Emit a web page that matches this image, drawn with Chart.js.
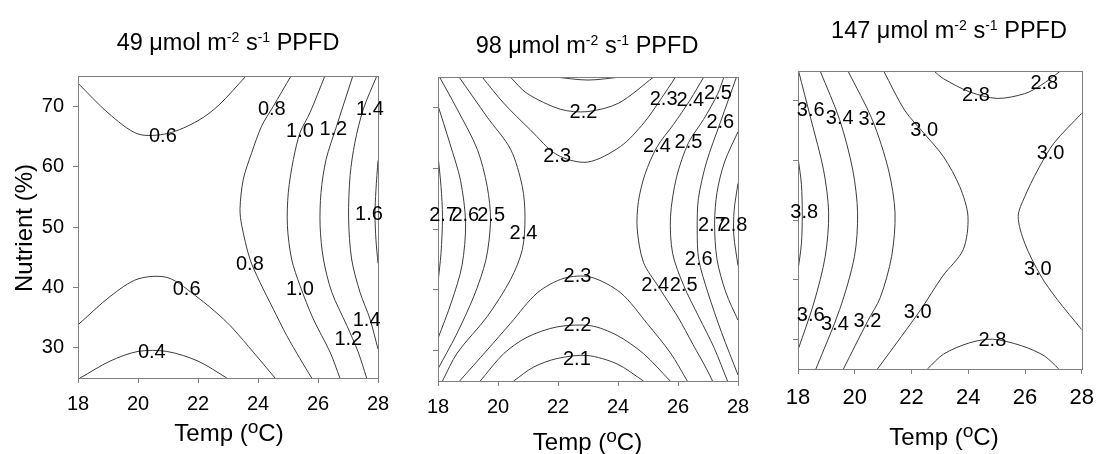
<!DOCTYPE html>
<html>
<head>
<meta charset="utf-8">
<script src="https://cdn.jsdelivr.net/npm/chart.js@4.4.1/dist/chart.umd.min.js"></script>
<style>
  html, body { margin: 0; padding: 0; background: #fff; }
  #wrap { position: relative; width: 1105px; height: 454px; }
  #wrap canvas { position: absolute; left: 0; top: 0; }
</style>
</head>
<body>
<div id="wrap">
  <canvas id="c49" width="1105" height="454"></canvas>
  <canvas id="c98" width="1105" height="454"></canvas>
  <canvas id="c147" width="1105" height="454"></canvas>
</div>
<script>
// axis ticks
const tempTicks = [18, 20, 22, 24, 26, 28];
const nutrientTicks = [30, 40, 50, 60, 70];
const ppfd = ['49', '98', '147'];

// contour lines, points are [temp, nutrient]
const lines49 = [
  [[18,73.8],[19,68.9],[20,65.4],[21,65.5],[22,67.6],[22.7,70.2],[23.6,75]],                                   // 0.6
  [[18,33.8],[19.07,38.5],[20,41.4],[21,41.6],[22,38.3],[22.73,35.3],[23.18,33.1],[23.84,29.3],[24.4,26],[24.57,25]], // 0.6
  [[18.07,25],[19.07,27.8],[20,29.4],[20.96,29.4],[22,27.8],[22.96,25]],                                      // 0.4
  [[25.1,75],[24.5,69.9],[24.12,66.7],[23.79,62.3],[23.51,57.9],[23.4,53],[23.46,50.2],[23.73,44.7],[24.07,40.8],[24.51,36.4],[24.96,32],[25.4,28.2],[25.79,25]], // 0.8
  [[26.23,75],[25.73,68.9],[25.4,65.6],[25.18,61.2],[25.01,55.7],[24.98,50.2],[25.12,44.7],[25.4,40.3],[25.84,34.8],[26.4,29.3],[26.73,25]], // 1.0
  [[27.16,75],[26.62,66.7],[26.27,61.2],[26.1,55.7],[26.07,50.2],[26.18,44.7],[26.46,39.2],[26.96,33.7],[27.34,29.3],[27.62,25]], // 1.2
  [[27.96,75],[27.51,69.5],[27.23,64],[27.07,58.5],[27.02,51.5],[27.12,44.7],[27.4,39.2],[27.73,34.8],[28,29.8]], // 1.4
  [[28,61],[27.93,56],[27.9,52],[27.93,48],[28,44]]                                                            // 1.6
];
const labels49 = [
  [20.83,65.0,'0.6'],[24.46,69.5,'0.8'],[25.4,65.8,'1.0'],[26.51,66.1,'1.2'],[27.73,69.5,'1.4'],
  [27.7,52.0,'1.6'],[23.73,43.8,'0.8'],[21.62,39.7,'0.6'],[25.4,39.7,'1.0'],[27.62,34.6,'1.4'],
  [27.01,31.4,'1.2'],[20.46,29.2,'0.4']
];

const lines98 = [
  [[18,62.1],[18.1,57],[18.15,52],[18.1,46],[18,41.2]],                                                         // 2.7
  [[18,70.3],[18.4,64],[18.75,58],[18.92,51],[18.8,44],[18.45,38],[18,32]],                                    // 2.6
  [[18.05,75],[18.64,69.7],[19.31,63.1],[19.64,57],[19.75,51.4],[19.6,45],[19.2,39],[18.6,32.5],[18,27]],      // 2.5
  [[18.7,75],[19.64,68.4],[20.42,63.1],[20.81,57],[20.9,52],[20.81,46.6],[20.42,41.7],[19.64,35.6],[18.64,29.6],[18.15,25]], // 2.4
  [[19.47,75],[20.19,70.7],[21.08,66.3],[21.97,62.2],[22.98,61.0],[24.09,63.6],[24.87,67.5],[25.42,71.3],[25.92,75]], // 2.3
  [[20.41,75],[20.97,72.3],[22.08,69.7],[22.97,69.3],[24.02,70.7],[25.19,75]],                                 // 2.2
  [[21.9,75],[23,74.5],[24.1,75]],                                                                             // 2.1
  [[18.72,25],[19.64,30.1],[20.42,34.5],[21.31,39.5],[22.2,41.9],[23.08,42.1],[24.09,39.5],[24.98,34.4],[25.75,29.6],[26.31,25]], // 2.3
  [[19.41,25],[20.19,29.5],[20.97,32.2],[21.97,33.9],[23.08,34.1],[23.97,32.5],[24.85,29.5],[25.74,25]],       // 2.2
  [[20.52,25],[21.19,27.3],[21.97,28.7],[22.97,29.2],[23.97,27.8],[24.85,25]],                                 // 2.1
  [[26.86,75],[26.4,71.2],[25.85,67.2],[25.3,63.5],[24.9,59],[24.68,54.5],[24.64,50],[24.85,44.5],[25.35,40.5],[26.0,35.5],[26.5,31],[26.95,27],[27.15,25]], // 2.4
  [[27.53,75],[27.33,72.3],[26.85,68],[26.35,64.2],[25.95,58.5],[25.75,52],[25.82,46],[26.19,40.7],[26.7,35.5],[27.2,30.5],[27.65,25]], // 2.5
  [[27.95,75],[27.41,67.5],[26.95,61],[26.68,55],[26.64,50],[26.69,45],[27.0,39.5],[27.45,33],[28,26]],        // 2.6
  [[28,66],[27.55,61],[27.3,56],[27.22,51],[27.3,45],[27.6,39.5],[28,35]],                                     // 2.7
  [[28,57.5],[27.87,53],[27.86,49],[28,44]]                                                                    // 2.8
];
const labels98 = [
  [22.85,69.1,'2.2'],[21.97,62.0,'2.3'],[25.52,71.3,'2.3'],[26.41,71.2,'2.4'],[27.33,72.3,'2.5'],
  [27.41,67.5,'2.6'],[25.3,63.5,'2.4'],[26.35,64.2,'2.5'],[18.17,52.3,'2.7'],[18.91,52.3,'2.6'],
  [19.77,52.3,'2.5'],[20.85,49.25,'2.4'],[27.13,50.6,'2.7'],[27.85,50.6,'2.8'],[26.69,45.0,'2.6'],
  [25.24,40.7,'2.4'],[26.19,40.7,'2.5'],[22.65,42.2,'2.3'],[22.65,34.1,'2.2'],[22.63,28.6,'2.1']
];

const lines147 = [
  [[18,60.5],[18.12,56],[18.15,51],[18.12,46],[18,41.6]],                                                       // 3.8
  [[18.02,75],[18.45,67],[18.9,58.4],[19.08,51.2],[18.96,43.9],[18.56,36.1],[18,28.2]],                        // 3.6
  [[18.78,75],[19.47,66.8],[19.93,58.4],[20.1,51.2],[19.99,43.9],[19.47,35],[18.63,25]],                       // 3.4
  [[19.76,75],[20.62,66.8],[21.19,58.4],[21.42,51.2],[21.3,43.9],[20.9,37],[20.45,33],[19.6,25]],              // 3.2
  [[21.02,75],[21.76,68.4],[22.45,64.5],[23.13,60.6],[23.7,55.6],[23.99,50.6],[23.82,45],[23.1,40.6],[22.33,35],[21.65,30.5],[20.8,25]], // 3.0
  [[28,67.9],[27.02,62.9],[26.45,58.4],[25.99,53.9],[25.76,50.6],[25.99,46.1],[26.56,40.6],[27.13,36.7],[28,31.6]], // 3.0
  [[22.79,75],[23.13,73.7],[24.05,71.5],[25.02,70.4],[25.99,71.2],[26.56,72.6],[27.25,75]],                   // 2.8
  [[22.56,25],[23.13,27.5],[24.05,29.4],[24.85,30.0],[25.88,28.9],[26.68,27.2],[27.19,25]]                    // 2.8
];
const labels147 = [
  [18.45,68.4,'3.6'],[19.47,67.0,'3.4'],[20.62,66.8,'3.2'],[22.45,65.1,'3.0'],[24.27,70.9,'2.8'],
  [26.68,72.9,'2.8'],[26.9,61.2,'3.0'],[18.22,51.2,'3.8'],[26.45,41.7,'3.0'],[18.45,33.9,'3.6'],
  [19.3,32.5,'3.4'],[20.45,33.0,'3.2'],[22.22,34.4,'3.0'],[24.85,29.8,'2.8']
];

const FONT = '"Liberation Sans", Arial, Helvetica, sans-serif';
const W = 1105, H = 454, AX = 50;

// text with raised pieces, centred on (cx, cy)
function richText(ctx, parts, cx, cy, size, supScale, raise) {
  const widths = parts.map(([t, sup]) => {
    ctx.font = (sup ? size * supScale : size) + 'px ' + FONT;
    return ctx.measureText(t).width;
  });
  let x = cx - widths.reduce((a, b) => a + b, 0) / 2;
  const base = cy + size * 0.36;
  ctx.textAlign = 'left';
  ctx.textBaseline = 'alphabetic';
  parts.forEach(([t, sup], i) => {
    ctx.font = (sup ? size * supScale : size) + 'px ' + FONT;
    ctx.fillText(t, x, sup ? base - size * raise : base);
    x += widths[i];
  });
}

function makeChart(id, lines, labels, level, p) {
  const decor = {
    id: 'decor',
    afterDraw(chart) {
      const ctx = chart.ctx, a = chart.chartArea;
      const sx = chart.scales.x, sy = chart.scales.y;
      ctx.save();
      ctx.strokeStyle = '#7f7f7f';
      ctx.lineWidth = 1;
      const l = Math.round(a.left) + 0.5, r = Math.round(a.right) + 0.5;
      const t = Math.round(a.top) + 0.5, b = Math.round(a.bottom) + 0.5;
      ctx.strokeRect(l, t, r - l, b - t);
      ctx.fillStyle = '#000';
      ctx.font = '20px ' + FONT;
      ctx.textAlign = 'center';
      ctx.textBaseline = 'middle';
      labels.forEach(([x, y, s]) => ctx.fillText(s, sx.getPixelForValue(x), sy.getPixelForValue(y)));
      richText(ctx, [[level + ' \u03bcmol m', false], ['-2', true], [' s', false], ['-1', true], [' PPFD', false]],
        p.title[0], p.title[1], 23.5, 0.6, 0.36);
      richText(ctx, [['Temp (', false], ['o', true], ['C)', false]], p.xTitle[0], p.xTitle[1], 24, 0.8, 0.3);
      if (p.yLabels) {
        ctx.translate(23, 228);
        ctx.rotate(-Math.PI / 2);
        richText(ctx, [['Nutrient (%)', false]], 0, 0, 24, 1, 0);
      }
      ctx.restore();
    }
  };

  new Chart(document.getElementById(id), {
    type: 'scatter',
    data: {
      datasets: lines.map(pts => ({
        data: pts.map(([x, y]) => ({x, y})),
        showLine: true,
        pointRadius: 0,
        borderColor: '#3c3c3c',
        borderWidth: 1,
        tension: 0.3
      }))
    },
    options: {
      responsive: false,
      animation: false,
      devicePixelRatio: 1,
      events: [],
      layout: {padding: {left: p.box[0] - AX, top: p.box[1], right: W - p.box[2], bottom: H - p.box[3] - AX}},
      plugins: {legend: {display: false}, tooltip: {enabled: false}},
      scales: {
        x: {
          type: 'linear', position: 'bottom', min: 18, max: 28,
          afterBuildTicks: s => { s.ticks = tempTicks.map(v => ({value: v})); },
          afterFit: s => { s.height = AX; },
          grid: {drawOnChartArea: false, drawTicks: true, tickLength: 5, color: '#7f7f7f'},
          border: {display: false},
          ticks: {color: '#000', maxRotation: 0, padding: p.xPad, font: {family: FONT, size: p.xTick}}
        },
        y: {
          type: 'linear', position: 'left', min: 25, max: 75,
          afterBuildTicks: s => { s.ticks = nutrientTicks.map(v => ({value: v})); },
          afterFit: s => { s.width = AX; },
          grid: {drawOnChartArea: false, drawTicks: true, tickLength: 5, color: '#7f7f7f'},
          border: {display: false},
          ticks: {display: p.yLabels, color: '#000', padding: 9, font: {family: FONT, size: 20}}
        }
      }
    },
    plugins: [decor]
  });
}

makeChart('c49', lines49, labels49, ppfd[0],
  {box: [78, 76, 378, 378], yLabels: true, xTick: 20, xPad: 9, title: [228, 42], xTitle: [229, 432]});
makeChart('c98', lines98, labels98, ppfd[1],
  {box: [438, 77, 738, 381], yLabels: false, xTick: 20, xPad: 9, title: [587, 45], xTitle: [587.5, 441]});
makeChart('c147', lines147, labels147, ppfd[2],
  {box: [798, 71, 1090, 369], yLabels: false, xTick: 22, xPad: 11, title: [949, 30], xTitle: [944, 436]});
</script>
</body>
</html>
